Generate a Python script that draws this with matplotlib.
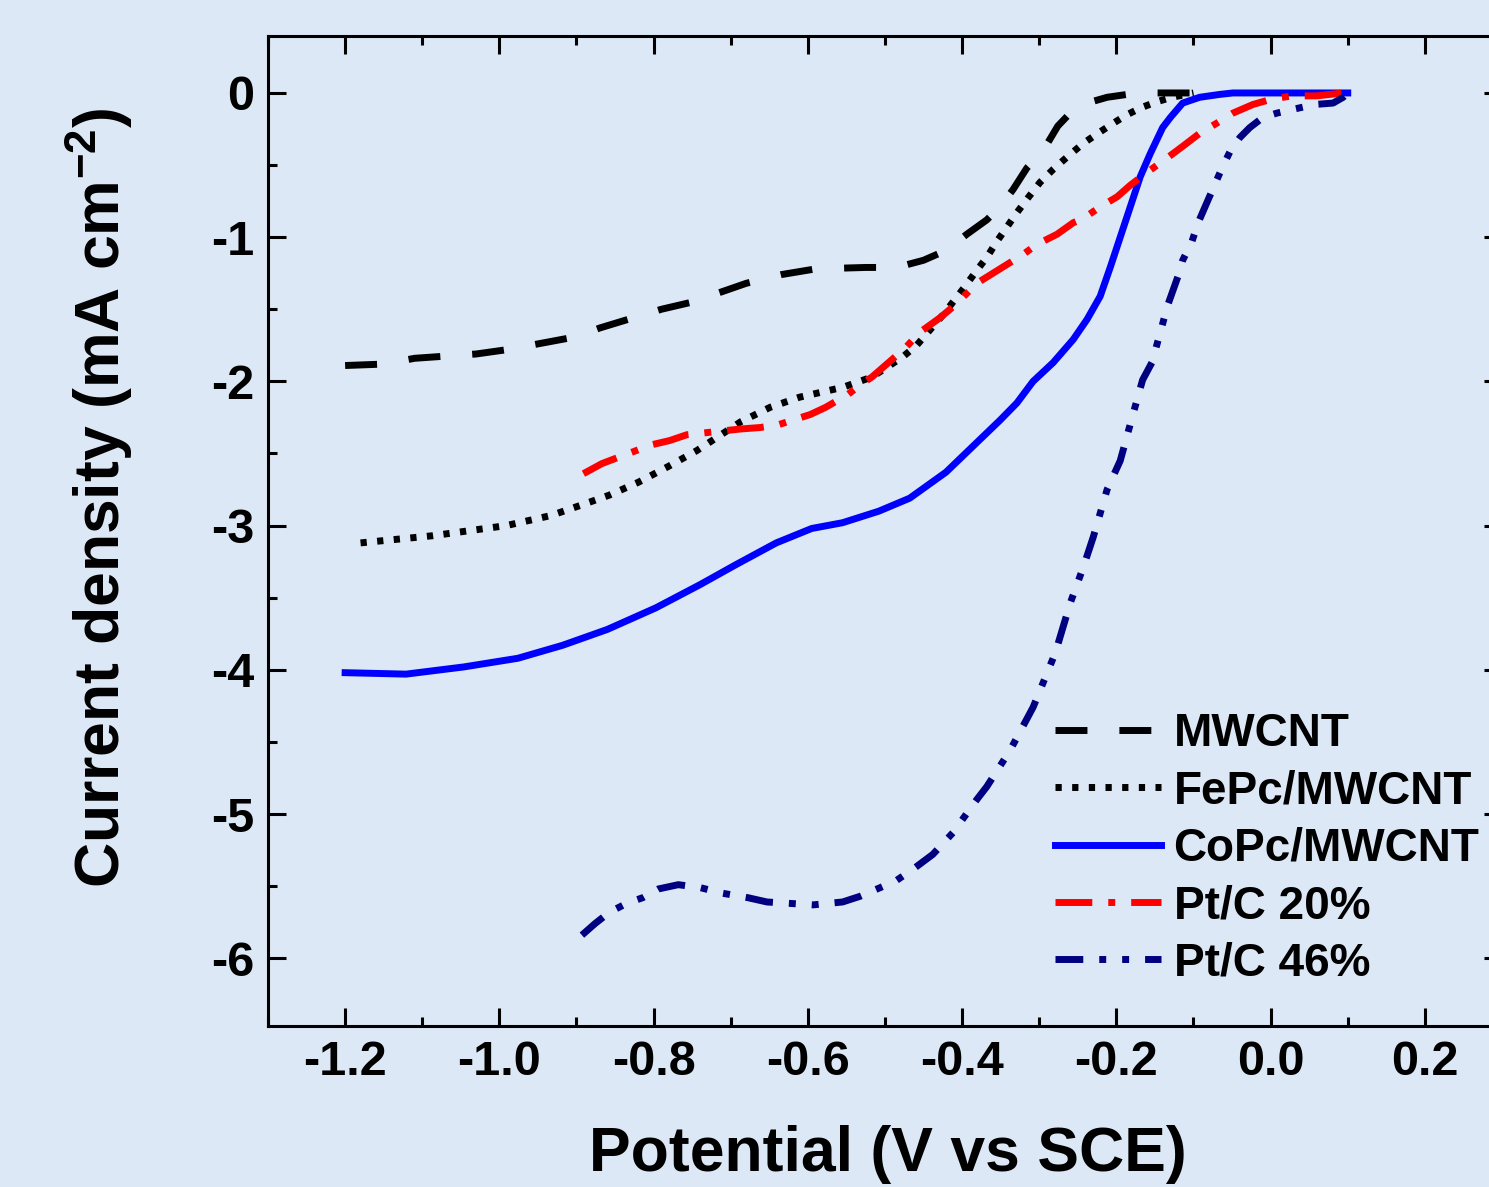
import matplotlib
matplotlib.use("Agg")
import matplotlib.pyplot as plt
from matplotlib.ticker import MultipleLocator, FormatStrFormatter

plt.rcParams['font.family'] = ['Liberation Sans', 'DejaVu Sans']
plt.rcParams['font.weight'] = 'bold'
plt.rcParams['axes.unicode_minus'] = False
plt.rcParams['mathtext.fontset'] = 'custom'
plt.rcParams['mathtext.rm'] = 'Liberation Sans:bold'
plt.rcParams['mathtext.bf'] = 'Liberation Sans:bold'

# MWCNT
mwcnt_x = [-1.20, -1.15, -1.11, -1.03, -0.99, -0.90, -0.87, -0.79, -0.75, -0.68,
           -0.635, -0.59, -0.525, -0.485, -0.45, -0.42, -0.394, -0.368, -0.351,
           -0.334, -0.316, -0.295, -0.276, -0.26, -0.238, -0.212, -0.173, -0.10]
mwcnt_y = [-1.89, -1.88, -1.84, -1.81, -1.78, -1.69, -1.63, -1.50, -1.45, -1.32,
           -1.26, -1.22, -1.21, -1.21, -1.16, -1.09, -0.98, -0.88, -0.79,
           -0.67, -0.52, -0.40, -0.23, -0.14, -0.07, -0.03, 0.0, 0.0]

# FePc/MWCNT
fepc_x = [-1.18, -1.086, -0.991, -0.933, -0.895, -0.858, -0.82, -0.781, -0.744, -0.724,
          -0.687, -0.649, -0.611, -0.554, -0.517, -0.477, -0.459, -0.425, -0.409, -0.396,
          -0.381, -0.368, -0.355, -0.342, -0.329, -0.315, -0.299, -0.282, -0.263, -0.243,
          -0.224, -0.204, -0.186, -0.167, -0.147, -0.128, -0.10]
fepc_y = [-3.12, -3.07, -3.00, -2.93, -2.86, -2.79, -2.70, -2.59, -2.48, -2.41,
          -2.28, -2.18, -2.11, -2.04, -1.97, -1.83, -1.75, -1.54, -1.43, -1.34,
          -1.23, -1.14, -1.03, -0.93, -0.83, -0.73, -0.62, -0.53, -0.44, -0.35,
          -0.28, -0.21, -0.15, -0.10, -0.06, -0.03, 0.0]

# CoPc/MWCNT
copc_x = [-1.20, -1.121, -1.046, -0.976, -0.918, -0.860, -0.797, -0.740, -0.693, -0.641,
          -0.595, -0.555, -0.508, -0.468, -0.421, -0.386, -0.351, -0.329, -0.308, -0.282,
          -0.256, -0.238, -0.221, -0.208, -0.195, -0.182, -0.169, -0.156, -0.140, -0.130,
          -0.114, -0.092, -0.066, -0.049, 0.0, 0.10]
copc_y = [-4.02, -4.03, -3.98, -3.92, -3.83, -3.72, -3.57, -3.41, -3.27, -3.12,
          -3.02, -2.98, -2.90, -2.81, -2.63, -2.45, -2.27, -2.15, -2.00, -1.87,
          -1.71, -1.57, -1.41, -1.21, -1.00, -0.79, -0.58, -0.42, -0.24, -0.17,
          -0.07, -0.03, -0.01, 0.0, 0.0, 0.0]

# Pt/C 20%
pt20_x = [-0.891, -0.867, -0.803, -0.779, -0.757, -0.687, -0.662, -0.638, -0.597, -0.577,
          -0.548, -0.531, -0.517, -0.474, -0.455, -0.429, -0.409, -0.381, -0.351, -0.321,
          -0.303, -0.277, -0.256, -0.243, -0.221, -0.199, -0.182, -0.160, -0.134, -0.114,
          -0.092, -0.070, -0.049, -0.023, 0.003, 0.029, 0.060, 0.094]
pt20_y = [-2.64, -2.57, -2.44, -2.41, -2.37, -2.33, -2.32, -2.30, -2.23, -2.18,
          -2.09, -2.02, -1.97, -1.77, -1.66, -1.56, -1.47, -1.32, -1.22, -1.12,
          -1.05, -0.98, -0.90, -0.87, -0.79, -0.72, -0.64, -0.55, -0.45, -0.37,
          -0.28, -0.21, -0.14, -0.08, -0.04, -0.02, -0.02, 0.0]

# Pt/C 46%
pt46_x = [-0.893, -0.876, -0.857, -0.835, -0.814, -0.794, -0.768, -0.740, -0.710, -0.678,
          -0.653, -0.623, -0.593, -0.555, -0.532, -0.506, -0.485, -0.463, -0.438, -0.412,
          -0.381, -0.368, -0.338, -0.308, -0.295, -0.279, -0.260, -0.243, -0.230, -0.212,
          -0.195, -0.177, -0.166, -0.154, -0.143, -0.134, -0.120, -0.114, -0.102, -0.094,
          -0.081, -0.063, -0.053, -0.040, -0.027, -0.010, 0.008, 0.032, 0.057, 0.081,
          0.094, 0.100]
pt46_y = [-5.84, -5.76, -5.68, -5.62, -5.58, -5.52, -5.49, -5.51, -5.55, -5.58,
          -5.61, -5.62, -5.63, -5.61, -5.57, -5.51, -5.46, -5.38, -5.28, -5.13,
          -4.90, -4.81, -4.56, -4.26, -4.09, -3.88, -3.54, -3.29, -3.08, -2.75,
          -2.55, -2.20, -1.99, -1.87, -1.66, -1.48, -1.27, -1.16, -1.03, -0.90,
          -0.74, -0.52, -0.41, -0.31, -0.24, -0.17, -0.14, -0.11, -0.08, -0.07,
          -0.03, 0.0]

fondo = '#dce8f5'
lw = 5.0

fig = plt.figure(figsize=(14.89, 11.87), dpi=100, facecolor=fondo)
ax = fig.add_axes([268 / 1489, 1 - 1026 / 1187, 1234 / 1489, 990 / 1187])
ax.set_facecolor(fondo)

estilo = dict(lw=lw, solid_joinstyle='round', dash_joinstyle='round')
ax.plot(mwcnt_x, mwcnt_y, color='black', ls=(0, (4.6, 4.6)), label='MWCNT', **estilo)
ax.plot(fepc_x, fepc_y, color='black', ls=(0, (0.9, 1.5)), label='FePc/MWCNT', **estilo)
ax.plot(copc_x, copc_y, color='#0000ff', ls='-', label='CoPc/MWCNT', **estilo)
ax.plot(pt20_x, pt20_y, color='#ff0000', ls=(0, (5.3, 2.3, 1.0, 2.3)), label='Pt/C 20%',
        **estilo)
ax.plot(pt46_x, pt46_y, color='#000080', ls=(0, (4.0, 2.3, 1.0, 2.3, 1.0, 2.3)),
        label='Pt/C 46%', **estilo)

ax.set_xlim(-1.3, 0.3)
ax.set_ylim(-6.47, 0.395)

# ejes y ticks
ax.xaxis.set_major_locator(MultipleLocator(0.2))
ax.xaxis.set_minor_locator(MultipleLocator(0.1))
ax.xaxis.set_major_formatter(FormatStrFormatter('%.1f'))
ax.yaxis.set_major_locator(MultipleLocator(1))
ax.yaxis.set_minor_locator(MultipleLocator(0.5))
ax.yaxis.set_major_formatter(FormatStrFormatter('%d'))

for s in ax.spines.values():
    s.set_linewidth(2.2)
ax.tick_params(which='both', direction='in', top=True, right=True, width=2.2,
               labelsize=35, pad=10)
ax.tick_params(which='major', length=13)
ax.tick_params(which='minor', length=6.5)

ax.set_xlabel('Potential (V vs SCE)', fontsize=45, fontweight='bold')
ax.set_ylabel(r'Current density (mA cm$^{\mathbf{-2}}$)', fontsize=45, fontweight='bold')
ax.xaxis.set_label_coords(0.502, -0.10)
ax.yaxis.set_label_coords(-0.108, 0.534)

ax.legend(loc='upper left', bbox_to_anchor=(0.638, 0.317), frameon=False, fontsize=33,
          handlelength=2.3, handletextpad=0.28, labelspacing=0.29, borderpad=0,
          borderaxespad=0)

fig.savefig('out.png', dpi=100, facecolor=fondo)
